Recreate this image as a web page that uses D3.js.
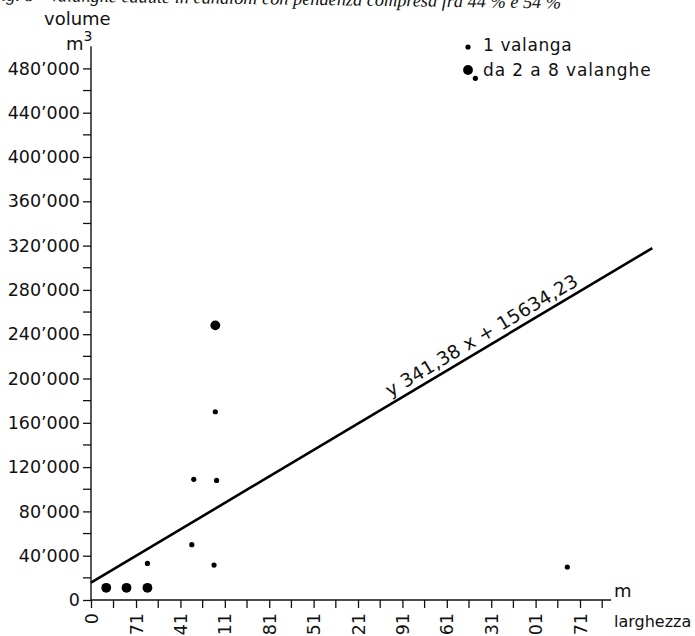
<!DOCTYPE html>
<html>
<head>
<meta charset="utf-8">
<script src="https://cdn.jsdelivr.net/npm/d3@7/dist/d3.min.js"></script>
<style>
  html, body { margin: 0; padding: 0; background: #fff; overflow: hidden; }
  svg { display: block; }
  text { font-family: "DejaVu Sans", "Liberation Sans", Arial, sans-serif; fill: #111; }
</style>
</head>
<body>
<svg id="chart" width="695" height="636"></svg>
<script>
// Larghezza (m) e volume (m³): punti di una sola valanga
const singleWidth  = [196, 162, 198, 159, 89, 194, 606, 751];
const singleVolume = [170000, 109000, 108000, 50000, 33000, 31500, 471000, 29800];
// punti che raggruppano da 2 a 8 valanghe
const groupWidth  = [24, 56, 89, 196];
const groupVolume = [11000, 11000, 11000, 248000];

// Retta di regressione y = 341,38 x + 15634,23
const slope = 341.38;
const intercept = 15634.23;
const fitRange = [0, 885];

// Etichette degli assi
const xTickValues = [0, 71, 141, 211, 281, 351, 421, 491, 561, 631, 701, 771];
const yTickValues = [0, 40000, 80000, 120000, 160000, 200000, 240000, 280000, 320000, 360000, 400000, 440000, 480000];
const yMinorValues = d3.range(20000, 480000, 40000);
const legendLabels = ["1 valanga", "da 2 a 8 valanghe"];
const titleText = "Fig. 8 - Valanghe cadute in canaloni con pendenza compresa fra 44 % e 54 %";

const svg = d3.select("#chart");

const x = d3.scaleLinear().domain([0, 771]).range([91, 580]);
const y = d3.scaleLinear().domain([0, 480000]).range([600, 68.4]);

const fmt = v => {
  if (v === 0) return "0";
  const s = String(v);
  return s.slice(0, s.length - 3) + "\u2019" + s.slice(-3);
};

// titolo (tagliato dal bordo superiore, leggermente inclinato)
svg.append("text")
  .attr("transform", "translate(-10,0.5) rotate(0.8)")
  .style("font-family", "'Liberation Serif', 'Times New Roman', serif")
  .style("font-style", "italic")
  .style("font-size", "18.3px")
  .text(titleText);

// asse Y
const yAxis = d3.axisLeft(y).tickValues(yTickValues).tickFormat(fmt).tickSize(8).tickPadding(3);
const gy = svg.append("g").attr("transform", `translate(${x(0)},0)`).call(yAxis);
gy.select(".domain").remove();
gy.selectAll(".tick line").attr("stroke", "#111").attr("stroke-width", 1.3);
gy.selectAll(".tick text").style("font-size", "17.5px").style("font-family", "'DejaVu Sans', sans-serif");
svg.append("line")
  .attr("x1", x(0)).attr("x2", x(0))
  .attr("y1", y(0)).attr("y2", y(500000))
  .attr("stroke", "#111").attr("stroke-width", 1.4);
svg.append("g").selectAll("line").data(yMinorValues).join("line")
  .attr("x1", x(0) - 8).attr("x2", x(0))
  .attr("y1", d => y(d)).attr("y2", d => y(d))
  .attr("stroke", "#111").attr("stroke-width", 1.3);

// asse X
const xAxis = d3.axisBottom(x).tickValues(xTickValues).tickFormat(d => String(d)).tickSize(8).tickPadding(0);
const gx = svg.append("g").attr("transform", `translate(0,${y(0)})`).call(xAxis);
gx.select(".domain").remove();
gx.selectAll(".tick line").attr("stroke", "#111").attr("stroke-width", 1.3);
gx.selectAll(".tick text")
  .style("font-size", "17.5px")
  .style("font-family", "'DejaVu Sans', sans-serif")
  .attr("text-anchor", "end")
  .attr("transform", "translate(0,13) rotate(-90)")
  .attr("x", 0).attr("y", 0).attr("dy", "0.35em");
const xMinor = xTickValues.slice(0, -1).map((d, i) => (d + xTickValues[i + 1]) / 2).concat([806]);
svg.append("g").selectAll("line").data(xMinor).join("line")
  .attr("x1", d => x(d)).attr("x2", d => x(d))
  .attr("y1", y(0)).attr("y2", y(0) + 8)
  .attr("stroke", "#111").attr("stroke-width", 1.3);
svg.append("line")
  .attr("x1", x(0)).attr("x2", x(820))
  .attr("y1", y(0)).attr("y2", y(0))
  .attr("stroke", "#111").attr("stroke-width", 1.4);

// titoli degli assi
svg.append("text").attr("x", 44).attr("y", 25).style("font-size", "18px").text("volume");
const m3 = svg.append("text").attr("x", 66).attr("y", 50).style("font-size", "18px");
m3.append("tspan").text("m");
m3.append("tspan").attr("dy", -9).style("font-size", "14px").text("3");
svg.append("text").attr("x", 614).attr("y", 597).style("font-size", "18px").text("m");
svg.append("text").attr("x", 614).attr("y", 627).style("font-size", "16px").text("larghezza");

// retta di regressione
svg.append("line")
  .attr("x1", x(fitRange[0])).attr("y1", y(slope * fitRange[0] + intercept))
  .attr("x2", x(fitRange[1])).attr("y2", y(slope * fitRange[1] + intercept))
  .attr("stroke", "#000").attr("stroke-width", 2.6);

// equazione scritta lungo la retta
const ex = 472;
const angle = Math.atan2(y(slope * ex + intercept) - y(slope * (ex - 100) + intercept), x(ex) - x(ex - 100)) * 180 / Math.PI;
svg.append("text")
  .attr("transform", `translate(${x(ex)},${y(slope * ex + intercept) - 7}) rotate(${angle})`)
  .style("font-size", "18.5px")
  .style("letter-spacing", "0.3px")
  .text("y 341,38 x + 15634,23");

// punti
svg.append("g").selectAll("circle").data(singleWidth).join("circle")
  .attr("cx", d => x(d)).attr("cy", (d, i) => y(singleVolume[i]))
  .attr("r", 2.6).attr("fill", "#000");
svg.append("g").selectAll("circle").data(groupWidth).join("circle")
  .attr("cx", d => x(d)).attr("cy", (d, i) => y(groupVolume[i]))
  .attr("r", 4.9).attr("fill", "#000");

// legenda
const lg = svg.append("g");
lg.append("circle").attr("cx", 468).attr("cy", 47).attr("r", 2.6).attr("fill", "#000");
lg.append("circle").attr("cx", 468).attr("cy", 70).attr("r", 4.9).attr("fill", "#000");
lg.append("text").attr("x", 483).attr("y", 51).style("font-size", "17px").style("letter-spacing", "0.6px").text(legendLabels[0]);
lg.append("text").attr("x", 483).attr("y", 76).style("font-size", "17px").style("letter-spacing", "0.9px").text(legendLabels[1]);
</script>
</body>
</html>
